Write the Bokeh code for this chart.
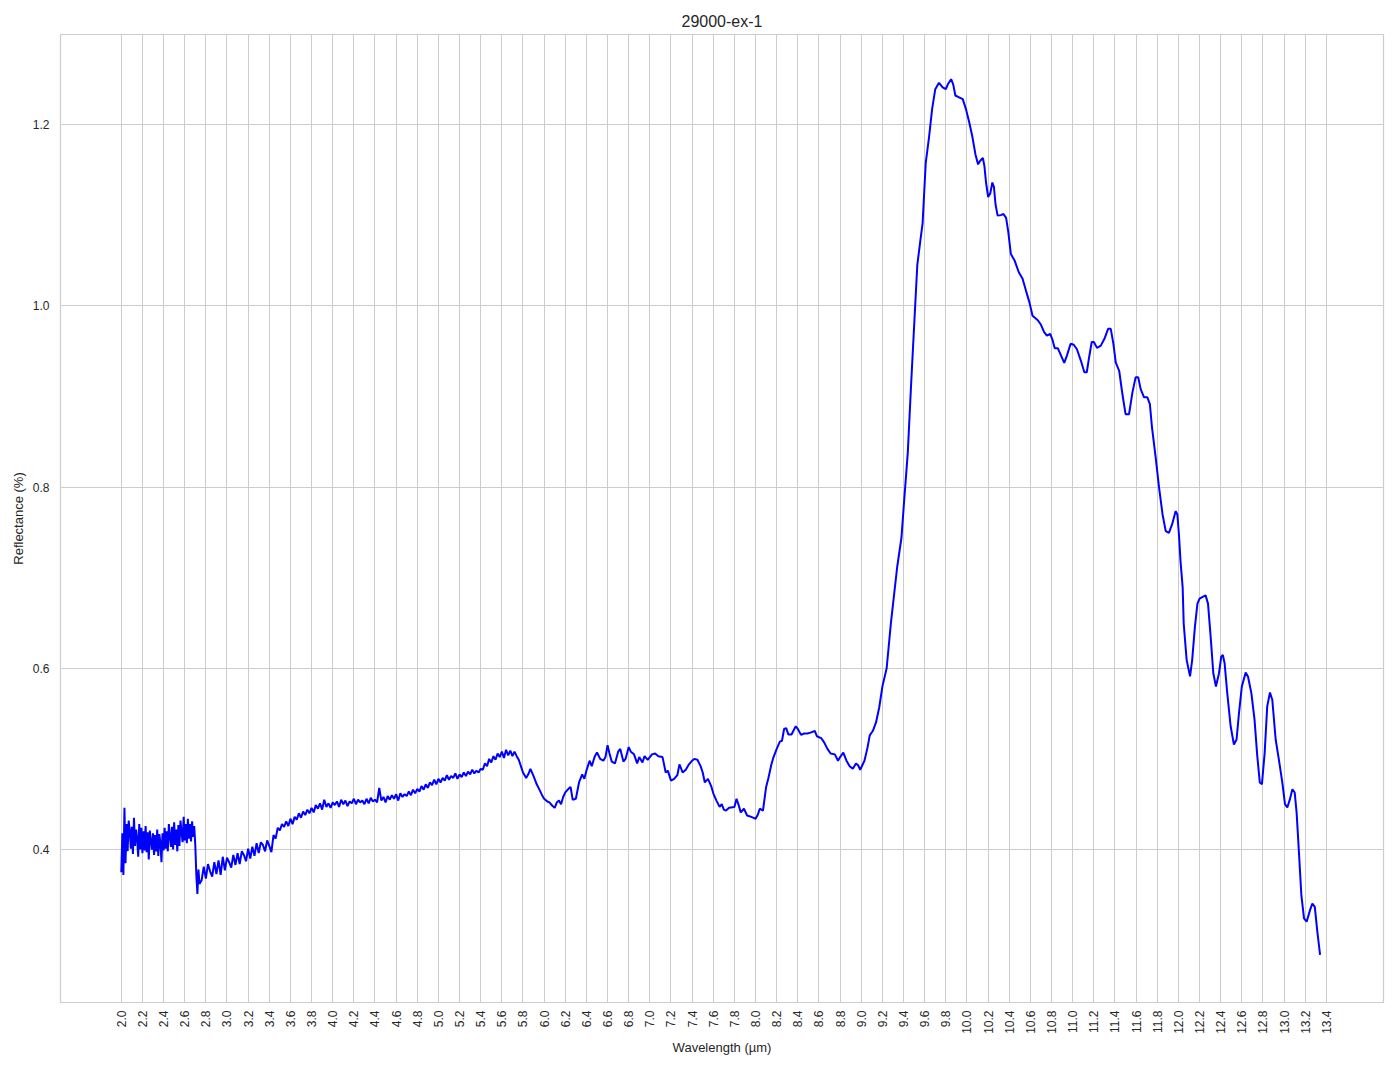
import numpy as np
from bokeh.plotting import figure
from bokeh.models import FixedTicker, Range1d, PrintfTickFormatter
from bokeh.embed import file_html
from bokeh.resources import INLINE

TITLE = "29000-ex-1"
X_LABEL = "Wavelength (µm)"
Y_LABEL = "Reflectance (%)"

# Segment A: noisy start, sampled every 0.01 µm from 2.00
a_start, a_step = 2.00, 0.01
refl_a = [0.375, 0.418, 0.372, 0.446, 0.385, 0.428, 0.398, 0.432, 0.421, 0.401,
          0.425, 0.395, 0.435, 0.404, 0.422, 0.412, 0.392, 0.428, 0.400, 0.424,
          0.396, 0.420, 0.399, 0.426, 0.397, 0.419, 0.389, 0.421, 0.409, 0.400,
          0.418, 0.394, 0.416, 0.398, 0.422, 0.393, 0.417, 0.408, 0.386, 0.418,
          0.399, 0.424, 0.401, 0.420, 0.398, 0.428, 0.415, 0.403, 0.425, 0.400,
          0.430, 0.405, 0.422, 0.398, 0.427, 0.404, 0.432, 0.419, 0.408, 0.436,
          0.410, 0.428, 0.407, 0.434, 0.412, 0.428, 0.409, 0.431, 0.414, 0.426,
          0.405, 0.372, 0.351, 0.378, 0.362]

# Segment B: noisy, sampled every 0.02 µm from 2.76
b_start, b_step = 2.76, 0.02
refl_b = [0.366, 0.381, 0.368, 0.384, 0.376, 0.370, 0.386, 0.373, 0.388, 0.372,
          0.392, 0.377, 0.391, 0.386, 0.380, 0.394, 0.383, 0.396, 0.384, 0.398,
          0.394, 0.387, 0.401, 0.390, 0.403, 0.393, 0.407, 0.396, 0.408, 0.405,
          0.398, 0.410, 0.404, 0.397, 0.416, 0.412, 0.424, 0.421, 0.428, 0.425,
          0.431, 0.426, 0.434, 0.428, 0.436, 0.433, 0.440, 0.435, 0.442, 0.438,
          0.444, 0.440, 0.446,
          0.441, 0.449, 0.445, 0.451, 0.444, 0.455, 0.447, 0.451, 0.446, 0.452,
          0.449, 0.453, 0.447, 0.455, 0.450, 0.454, 0.448, 0.453, 0.451, 0.456,
          0.450, 0.455, 0.452, 0.454, 0.450, 0.456, 0.451, 0.457, 0.453, 0.455,
          0.452, 0.468, 0.454, 0.458, 0.452, 0.459, 0.455, 0.460, 0.456, 0.461,
          0.454, 0.462, 0.458, 0.461, 0.459, 0.464, 0.460, 0.466, 0.462, 0.467,
          0.464, 0.470, 0.466, 0.472, 0.468, 0.474, 0.471, 0.477, 0.472, 0.478,
          0.474, 0.479, 0.476, 0.482, 0.477, 0.481, 0.479, 0.484, 0.478, 0.483,
          0.480, 0.485, 0.481, 0.486, 0.483, 0.488, 0.484, 0.487, 0.485, 0.489,
          0.488, 0.495, 0.492, 0.500, 0.496,
          0.503, 0.499, 0.506, 0.502, 0.508, 0.501, 0.510, 0.504, 0.509, 0.503,
          0.508, 0.503]

# Segment C: smoother part, read point by point
wl_c = [5.76, 5.78, 5.80, 5.83, 5.85, 5.87, 5.90, 5.93, 5.96, 5.98,
        6.00, 6.03, 6.05, 6.08, 6.10, 6.12, 6.14, 6.16, 6.18, 6.20,
        6.23, 6.25, 6.27, 6.30, 6.33, 6.36, 6.38, 6.40, 6.43, 6.45,
        6.48, 6.50, 6.53, 6.56, 6.58, 6.60, 6.62, 6.64, 6.67, 6.70,
        6.72, 6.75, 6.77, 6.80, 6.82, 6.85, 6.88, 6.90, 6.93, 6.95,
        6.98, 7.00, 7.02, 7.05, 7.08, 7.12, 7.15, 7.17, 7.20, 7.23,
        7.26, 7.28, 7.31, 7.34, 7.37, 7.40, 7.42, 7.45, 7.48, 7.50,
        7.52, 7.55, 7.58, 7.60, 7.63, 7.66, 7.68, 7.70, 7.72, 7.75,
        7.80, 7.82, 7.84, 7.86, 7.89, 7.92, 7.96, 7.98, 8.00, 8.02,
        8.04, 8.07, 8.10, 8.12, 8.15, 8.17, 8.20, 8.23, 8.25, 8.27,
        8.29, 8.31, 8.34, 8.38, 8.40, 8.43, 8.46, 8.49, 8.52, 8.56,
        8.58, 8.62, 8.65, 8.68, 8.71, 8.75, 8.78, 8.80, 8.83, 8.86,
        8.89, 8.92, 8.95, 8.97, 8.99, 9.03, 9.06, 9.08, 9.11, 9.14,
        9.17, 9.20, 9.24, 9.28, 9.31, 9.34, 9.38, 9.405, 9.44, 9.47,
        9.50, 9.53, 9.56, 9.58, 9.61, 9.64, 9.67, 9.70, 9.735, 9.77,
        9.80, 9.82, 9.85, 9.87, 9.89, 9.925, 9.96, 9.99, 10.02, 10.05,
        10.08, 10.105, 10.125, 10.15, 10.165, 10.18, 10.20, 10.22, 10.24, 10.255,
        10.27, 10.29, 10.32, 10.345, 10.37, 10.39, 10.415, 10.45, 10.49, 10.525,
        10.557, 10.59, 10.62, 10.67, 10.70, 10.73, 10.756, 10.787, 10.81, 10.83,
        10.86, 10.89, 10.92, 10.945, 10.98, 11.01, 11.04, 11.077, 11.11, 11.133,
        11.155, 11.18, 11.20, 11.23, 11.266, 11.30, 11.335, 11.36, 11.385, 11.407,
        11.44, 11.47, 11.50, 11.533, 11.565, 11.595, 11.62, 11.643, 11.675, 11.706,
        11.73, 11.75, 11.785, 11.817, 11.85, 11.88, 11.91, 11.94, 11.974, 11.99,
        12.005, 12.02, 12.04, 12.05, 12.078, 12.11, 12.13, 12.156, 12.18, 12.20,
        12.226, 12.257, 12.28, 12.305, 12.33, 12.355, 12.384, 12.405, 12.42, 12.437,
        12.462, 12.494, 12.525, 12.55, 12.573, 12.60, 12.636, 12.658, 12.69, 12.72,
        12.746, 12.77, 12.79, 12.816, 12.84, 12.866, 12.888, 12.92, 12.95, 12.983,
        13.008, 13.03, 13.055, 13.078, 13.10, 13.118, 13.14, 13.163, 13.188, 13.213,
        13.245, 13.267, 13.29, 13.314, 13.34]
refl_c = [0.499, 0.492, 0.485, 0.479, 0.483, 0.489, 0.481, 0.472, 0.465, 0.460,
          0.456, 0.453, 0.452, 0.448, 0.446, 0.452, 0.454, 0.450, 0.458, 0.463,
          0.467, 0.469, 0.455, 0.456, 0.474, 0.483, 0.478, 0.487, 0.498, 0.492,
          0.503, 0.507, 0.500, 0.498, 0.502, 0.515, 0.505, 0.497, 0.495, 0.508,
          0.511, 0.497, 0.500, 0.513, 0.508, 0.505, 0.495, 0.502, 0.496, 0.503,
          0.499, 0.502, 0.505, 0.506, 0.503, 0.502, 0.485, 0.487, 0.476, 0.478,
          0.482, 0.494, 0.485, 0.488, 0.494, 0.498, 0.500, 0.499, 0.492, 0.485,
          0.474, 0.478, 0.470, 0.462, 0.454, 0.447, 0.450, 0.444, 0.443, 0.446,
          0.447, 0.456, 0.449, 0.441, 0.445, 0.4375, 0.436, 0.435, 0.434, 0.438,
          0.445, 0.443, 0.469, 0.478, 0.494, 0.502, 0.511, 0.519, 0.520, 0.533,
          0.534, 0.527, 0.527, 0.536, 0.533, 0.5265, 0.528, 0.528, 0.529, 0.531,
          0.525, 0.523, 0.518, 0.511, 0.506, 0.505, 0.498, 0.502, 0.507, 0.498,
          0.492, 0.489, 0.495, 0.493, 0.488, 0.498, 0.513, 0.526, 0.531, 0.5405,
          0.557, 0.580, 0.600, 0.6495, 0.681, 0.712, 0.744, 0.784, 0.838, 0.910,
          0.978, 1.045, 1.073, 1.091, 1.158, 1.185, 1.217, 1.239, 1.246, 1.241,
          1.239, 1.2446, 1.250, 1.244, 1.232, 1.230, 1.228, 1.217, 1.203, 1.187,
          1.167, 1.156, 1.160, 1.163, 1.154, 1.136, 1.120, 1.124, 1.136, 1.131,
          1.1117, 1.0995, 1.100, 1.1013, 1.097, 1.082, 1.057, 1.050, 1.037, 1.030,
          1.017, 1.004, 0.989, 0.984, 0.979, 0.971, 0.967, 0.969, 0.962, 0.953,
          0.953, 0.945, 0.937, 0.945, 0.958, 0.957, 0.952, 0.9395, 0.9266, 0.9266,
          0.943, 0.960, 0.960, 0.9535, 0.956, 0.9635, 0.9745, 0.9745, 0.958, 0.9376,
          0.928, 0.9026, 0.8804, 0.8804, 0.9044, 0.921, 0.921, 0.908, 0.899, 0.899,
          0.8915, 0.8657, 0.8325, 0.7993, 0.7697, 0.7513, 0.7494, 0.7587, 0.7734, 0.7697,
          0.7476, 0.718, 0.6896, 0.6494, 0.609, 0.591, 0.609, 0.6457, 0.6713, 0.6768,
          0.6786, 0.6804, 0.6713, 0.6347, 0.5945, 0.5799, 0.5945, 0.6128, 0.6146, 0.6055,
          0.5726, 0.536, 0.5159, 0.5214, 0.5506, 0.5799, 0.5952, 0.5909, 0.5726, 0.5433,
          0.5031, 0.4739, 0.472, 0.5068, 0.558, 0.5733, 0.5653, 0.5214, 0.4995, 0.4739,
          0.4501, 0.4464, 0.4556, 0.4665, 0.4629, 0.441, 0.3971, 0.3496, 0.324, 0.3203,
          0.3331, 0.3404, 0.3368, 0.3094, 0.2837]

x_ticks = [round(2.0 + 0.2 * i, 1) for i in range(58)]
y_ticks = [0.4, 0.6, 0.8, 1.0, 1.2]

wl_a = [round(a_start + a_step * i, 3) for i in range(len(refl_a))]
wl_b = [round(b_start + b_step * i, 3) for i in range(len(refl_b))]
wavelength = wl_a + wl_b + list(wl_c)
reflectance = refl_a + refl_b + list(refl_c)
assert len(wl_c) == len(refl_c)

FONT = "Liberation Sans"
TXT = "#262626"
GRID = "#cccccc"

p = figure(frame_width=1323, frame_height=968,
           min_border_left=60, min_border_top=34, min_border_right=8, min_border_bottom=52,
           x_range=Range1d(1.425, 13.94), y_range=Range1d(0.2312, 1.2993),
           output_backend="svg", toolbar_location=None, title=TITLE)

p.line(wavelength, reflectance, line_color="#0000ff", line_width=2)

p.title.text_font = FONT
p.title.text_font_size = "16px"
p.title.text_font_style = "normal"
p.title.text_color = TXT
p.title.align = "center"
p.title.standoff = 10

p.xaxis.ticker = FixedTicker(ticks=x_ticks)
p.yaxis.ticker = FixedTicker(ticks=y_ticks)
p.xaxis.formatter = PrintfTickFormatter(format="%.1f")
p.yaxis.formatter = PrintfTickFormatter(format="%.1f")
p.xaxis.major_label_orientation = np.pi / 2
p.xaxis.axis_label = X_LABEL
p.yaxis.axis_label = Y_LABEL

for ax in (p.xaxis[0], p.yaxis[0]):
    ax.axis_line_color = None
    ax.major_tick_line_color = None
    ax.minor_tick_line_color = None
    ax.major_tick_out = 0
    ax.major_tick_in = 0
    ax.minor_tick_out = 0
    ax.major_label_text_font = FONT
    ax.major_label_text_font_size = "12px"
    ax.major_label_text_color = TXT
    ax.axis_label_text_font = FONT
    ax.axis_label_text_font_size = "13px"
    ax.axis_label_text_font_style = "normal"
    ax.axis_label_text_color = TXT

p.xaxis.major_label_standoff = 8
p.xaxis.axis_label_standoff = 3
p.yaxis.major_label_standoff = 11
p.yaxis.axis_label_standoff = 4

p.xgrid.grid_line_color = GRID
p.ygrid.grid_line_color = GRID
p.xgrid.grid_line_width = 1
p.ygrid.grid_line_width = 1
p.outline_line_color = GRID
p.outline_line_width = 1.2
p.background_fill_color = "white"
p.border_fill_color = "white"

open("out.html", "w").write(file_html(p, INLINE))
